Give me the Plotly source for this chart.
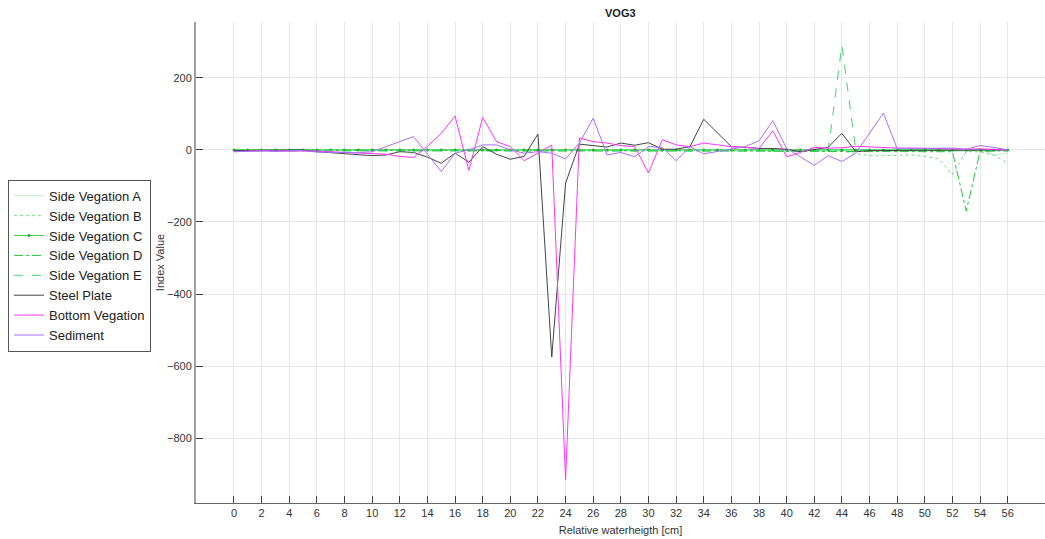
import plotly.graph_objects as go

# Relative water height [cm]
height_cm = list(range(0, 57))

side_veg_a = [1, 1, 1, 1, 1, 1, 1, 1, 1, 1, 1, 1, 1, 1, 1, 1, 1, 1, 1, 1,
              1, 1, 1, 1, 1, 1, 1, 1, 1, 1, 1, 1, 1, 1, 1, 1, 1, 1, 1, 1,
              0, 0, 0, 0, 0, 0, 0, 0, 0, 0, 0, 0, -3, -5, 2, -15, -8]
side_veg_b = [0, 0, 0, 0, 0, 0, 0, 0, 0, 0, 0, 0, 0, 0, 0, 0, 0, 0, 0, 0,
              0, 0, 0, 0, 0, 0, 0, 0, 0, 0, 0, 0, 0, 0, 0, 0, 0, 0, -2, -3,
              -3, -4, -5, -5, -3, -10, -16, -16, -14, -14, -18, -25, -69, -5, -5, -14, -37]
side_veg_c = [0, 0, 0, 0, 0, 0, 0, 0, 0, 0, 0, 0, 0, 0, 0, 0, 0, 0, 0, 0,
              0, 0, 0, 0, 0, 0, 0, 0, 0, 0, 0, 0, 0, 0, 0, 0, 0, 0, 0, 0,
              0, 0, 0, 0, 0, 0, 0, 0, 0, 0, 0, 0, 0, 0, 0, 0, 0]
side_veg_d = [-1, -1, -1, -1, -1, -1, -1, -1, -1, -1, -1, -1, -1, -1, -1, -1, -1, -1, -1, -1,
              -1, -1, -1, -1, -1, -1, -1, -1, -1, -1, -1, -1, -2, -2, -2, -2, -2, -3, -3, -4,
              -4, -4, -4, -4, -4, -4, -4, -4, -4, -4, -4, -4, -5, -170, -5, -3, -3]
side_veg_e = [-3, -3, -3, -3, -3, -3, -3, -3, -3, -3, -3, -3, -3, -3, -3, -3, -3, -3, -3, -3,
              -3, -3, -3, -3, -3, -3, -3, -3, -3, -3, -3, -3, -3, -3, -3, -3, -3, -3, -3, -3,
              -3, -3, -3, -3, 290, 0, -2, -2, -2, -2, -2, -2, -2, -2, -2, -2, -2]
steel_plate = [-2, -2, -2, -2, -1, 0, -5, -8, -11, -14, -16, -14, -5, -7, -20, -37, -9, -34, 9, -12,
               -26, -18, 44, -575, -92, 16, 13, 8, 19, 13, 20, 2, 2, 9, 85, 47, 9, 7, 4, 4,
               2, -5, 2, 7, 46, -5, -2, -2, 0, 0, 0, -2, 0, 0, 0, 0, 0]
bottom_veg = [-5, -3, -2, -3, -3, -2, -3, -5, -7, -8, -10, -12, -18, -21, 10, 46, 94, -57, 90, 23,
              9, -30, -9, 13, -915, 33, 23, 19, 12, 9, -64, 28, 14, 9, 19, 14, 9, 7, 4, 53,
              -19, -7, 7, 5, 6, 10, 8, 6, 5, 5, 4, 3, 3, 2, 3, 1, 0]
sediment = [-5, -3, -3, -4, -4, -2, -6, -7, -7, -8, -5, 9, 23, 37, -12, -60, -9, 0, 14, 14,
            0, -9, -5, -9, -25, 19, 88, -14, -7, -19, 9, 7, -30, 9, -11, -4, 2, 9, 25, 81,
            4, -19, -43, -16, -32, -9, 46, 102, 4, 4, 3, 3, 5, 2, 12, 7, 0]

x_ticks = list(range(0, 57, 2))
y_ticks = [-800, -600, -400, -200, 0, 200]

series = [
    ("Side Vegation A", side_veg_a, dict(color="#c8f0cf", width=1.2, dash="solid"), None),
    ("Side Vegation B", side_veg_b, dict(color="#6fe08a", width=1, dash="dot"), None),
    ("Side Vegation C", side_veg_c, dict(color="#3ccf55", width=1.2, dash="solid"), dict(size=3, color="#22aa33")),
    ("Side Vegation D", side_veg_d, dict(color="#22c73e", width=1, dash="dashdot"), None),
    ("Side Vegation E", side_veg_e, dict(color="#44d46c", width=1, dash="dash"), None),
    ("Steel Plate", steel_plate, dict(color="#444444", width=1, dash="solid"), None),
    ("Bottom Vegation", bottom_veg, dict(color="#ff33ff", width=1, dash="solid"), None),
    ("Sediment", sediment, dict(color="#a870ff", width=1, dash="solid"), None),
]

fig = go.Figure()
for name, vals, line, marker in series:
    fig.add_trace(go.Scatter(
        x=height_cm, y=vals, name=name,
        mode="lines+markers" if marker else "lines",
        line=line, marker=marker,
    ))

axis_font = dict(family="Liberation Sans, Arial", size=11, color="#333333")

fig.update_layout(
    width=1045, height=539,
    margin=dict(l=196, r=0, t=22, b=36),
    paper_bgcolor="white", plot_bgcolor="white",
    font=axis_font,
    title=dict(text="<b>VOG3</b>", x=0.5936, xanchor="center", y=0.976, yanchor="middle",
               font=dict(family="Liberation Sans, Arial", size=11, color="#222222")),
    showlegend=True,
    legend=dict(
        x=-0.2214, xanchor="left", y=0.672, yanchor="top",
        bgcolor="white", bordercolor="#555555", borderwidth=1,
        font=dict(family="Liberation Sans, Arial", size=13, color="#222222"),
        tracegroupgap=0, itemwidth=30,
    ),
    xaxis=dict(
        range=[-2.75, 58.7], tickmode="array", tickvals=x_ticks,
        showgrid=True, gridcolor="#e6e6e6", gridwidth=1,
        zeroline=False, showline=True, linecolor="#666666", linewidth=1,
        ticks="inside", ticklen=7, tickcolor="#444444",
        title=dict(text="Relative waterheigth [cm]", standoff=8, font=axis_font),
        tickfont=axis_font,
    ),
    yaxis=dict(
        range=[-980, 355], tickmode="array", tickvals=y_ticks,
        showgrid=True, gridcolor="#e6e6e6", gridwidth=1,
        zeroline=False, showline=True, linecolor="#a0a0a0", linewidth=2,
        ticks="inside", ticklen=7, tickcolor="#444444",
        title=dict(text="Index Value", standoff=0, font=axis_font),
        tickfont=axis_font,
    ),
)

fig.write_html("out.html")
